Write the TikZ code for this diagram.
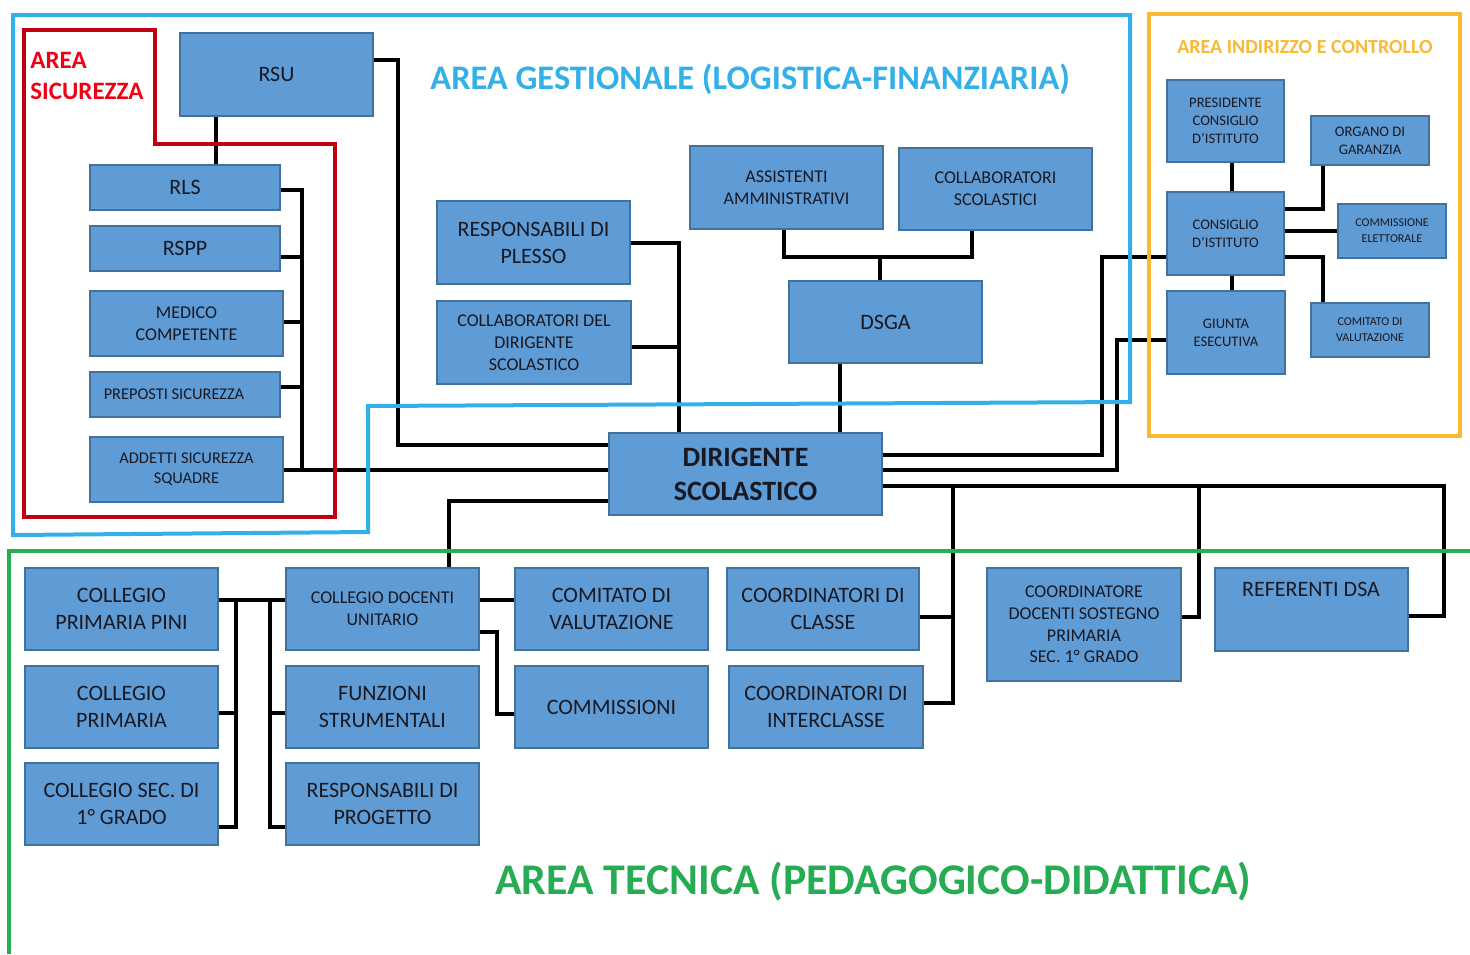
\documentclass[tikz,border=0pt]{standalone}
\usepackage{fontspec}
\setmainfont{Carlito}
\usetikzlibrary{calc}
\definecolor{boxfill}{RGB}{95,155,212}
\definecolor{boxline}{RGB}{65,113,156}
\definecolor{gestblue}{RGB}{52,176,232}
\definecolor{secred}{RGB}{192,0,18}
\definecolor{secredtext}{RGB}{240,0,20}
\definecolor{indorange}{RGB}{250,185,50}
\definecolor{tecgreen}{RGB}{38,172,82}
\definecolor{txt}{RGB}{25,25,35}
\newcommand\bx[7][]{%
  \pgfmathsetmacro\bw{(#5-#3)*0.5}%
  \pgfmathsetmacro\bh{(#6-#4)*0.5}%
  \node[box,#1,minimum width=\bw pt,minimum height=\bh pt] (#2) at ({(#3+#5)/2},{(#4+#6)/2}) {#7};}
\begin{document}
\begin{tikzpicture}[x=0.5pt,y=-0.5pt,
  box/.style={draw=boxline,line width=0.6pt,fill=boxfill,text=txt,align=center,inner sep=0pt},
  fsxi/.style={font=\fontsize{11}{13.5}\selectfont},
  fsix/.style={font=\fontsize{9}{10.9}\selectfont},
  fsviii/.style={font=\fontsize{8.2}{10}\selectfont},
  fsvii/.style={font=\fontsize{7.3}{8.85}\selectfont},
  fsvi/.style={font=\fontsize{6}{8}\selectfont},
  fsdir/.style={font=\bfseries\fontsize{14}{17}\selectfont},
  conn/.style={draw=black,line width=2.2pt,line join=miter},
  area/.style={line width=2pt,line join=miter}]
\useasboundingbox (0,0) rectangle (1470,954);
% boxes
\bx[fsxi]{rsu}{180}{33}{373}{116}{RSU}
\bx[fsxi]{rls}{90}{165}{280}{210}{RLS}
\bx[fsxi]{rspp}{90}{226}{280}{271}{RSPP}
\bx[fsix]{med}{90}{291}{283}{356}{MEDICO\\COMPETENTE}
\bx[fsviii]{prep}{90}{372}{280}{417}{PREPOSTI SICUREZZA\hspace*{11pt}}
\bx[fsviii]{add}{90}{437}{283}{502}{ADDETTI SICUREZZA\\SQUADRE}
\bx[fsxi]{plesso}{437}{201}{630}{284}{RESPONSABILI DI\\PLESSO}
\bx[fsix]{colldir}{437}{301}{631}{384}{COLLABORATORI DEL\\DIRIGENTE\\SCOLASTICO}
\bx[fsix]{assamm}{690}{146}{883}{229}{ASSISTENTI\\AMMINISTRATIVI}
\bx[fsix]{collscol}{899}{148}{1092}{230}{COLLABORATORI\\SCOLASTICI}
\bx[fsxi]{dsga}{789}{281}{982}{363}{DSGA}
\bx[fsdir]{dir}{609}{433}{882}{515}{DIRIGENTE\\SCOLASTICO}
\bx[fsvii]{pres}{1167}{80}{1284}{162}{PRESIDENTE\\CONSIGLIO\\D’ISTITUTO}
\bx[fsvii]{organo}{1311}{116}{1429}{165}{ORGANO DI\\GARANZIA}
\bx[fsvii]{cdi}{1167}{192}{1284}{275}{CONSIGLIO\\D’ISTITUTO}
\bx[fsvi]{commel}{1338}{204}{1446}{258}{COMMISSIONE\\ELETTORALE}
\bx[fsvii]{giunta}{1167}{291}{1285}{374}{GIUNTA\\ESECUTIVA}
\bx[fsvi]{comvali}{1311}{303}{1429}{357}{COMITATO DI\\VALUTAZIONE}
\bx[fsxi]{cpp}{25}{568}{218}{650}{COLLEGIO\\PRIMARIA PINI}
\bx[fsxi]{cp}{25}{666}{218}{748}{COLLEGIO\\PRIMARIA}
\bx[fsxi]{csec}{25}{763}{218}{845}{COLLEGIO SEC. DI\\1° GRADO}
\bx[fsix]{cdu}{286}{568}{479}{650}{COLLEGIO DOCENTI\\UNITARIO}
\bx[fsxi]{funz}{286}{666}{479}{748}{FUNZIONI\\STRUMENTALI}
\bx[fsxi]{rprog}{286}{763}{479}{845}{RESPONSABILI DI\\PROGETTO}
\bx[fsxi]{comvalii}{515}{568}{708}{650}{COMITATO DI\\VALUTAZIONE}
\bx[fsxi]{comm}{515}{666}{708}{748}{COMMISSIONI}
\bx[fsxi]{coordcl}{727}{568}{919}{650}{COORDINATORI DI\\CLASSE}
\bx[fsxi]{coordint}{729}{666}{923}{748}{COORDINATORI DI\\INTERCLASSE}
\bx[fsix]{coordsost}{987}{568}{1181}{681}{COORDINATORE\\DOCENTI SOSTEGNO\\PRIMARIA\\SEC. 1° GRADO}
\bx{refdsa}{1215}{568}{1408}{651}{}
\node[fsxi,text=txt,inner sep=0pt] (refdsatxt) at (1311,589) {REFERENTI DSA};
% connectors
\draw[conn] (rsu.east |- 0,60) -- (398,60) -- (398,445) -- (dir.west |- 0,445);
\draw[conn] (rsu.south -| 216,0) -- (rls.north -| 216,0);
\draw[conn] (rls.east |- 0,190) -- (302,190) -- (302,470);
\draw[conn] (rspp.east |- 0,257) -- (302,257);
\draw[conn] (med.east |- 0,322) -- (302,322);
\draw[conn] (prep.east |- 0,387) -- (302,387);
\draw[conn] (add.east |- 0,470) -- (dir.west |- 0,470);
\draw[conn] (plesso.east |- 0,243) -- (679,243) -- (dir.north -| 679,0);
\draw[conn] (colldir.east |- 0,347) -- (679,347);
\draw[conn] (dir.west |- 0,501) -- (449,501) -- (cdu.north -| 449,0);
\draw[conn] (assamm.south -| 784,0) -- (784,257) -- (972,257) -- (collscol.south -| 972,0);
\draw[conn] (880,257) -- (dsga.north -| 880,0);
\draw[conn] (dsga.south -| 840,0) -- (dir.north -| 840,0);
\draw[conn] (dir.east |- 0,455) -- (1102,455) -- (1102,257) -- (cdi.west |- 0,257);
\draw[conn] (dir.east |- 0,470) -- (1117,470) -- (1117,340) -- (giunta.west |- 0,340);
\draw[conn] (dir.east |- 0,486) -- (1444,486) -- (1444,616) -- (refdsa.east |- 0,616);
\draw[conn] (953,486) -- (953,703) -- (coordint.east |- 0,703);
\draw[conn] (coordcl.east |- 0,617) -- (953,617);
\draw[conn] (1199,486) -- (1199,617) -- (coordsost.east |- 0,617);
\draw[conn] (pres.south -| 1232,0) -- (cdi.north -| 1232,0);
\draw[conn] (cdi.south -| 1232,0) -- (giunta.north -| 1232,0);
\draw[conn] (cdi.east |- 0,209) -- (1323,209) -- (organo.south -| 1323,0);
\draw[conn] (cdi.east |- 0,231) -- (commel.west |- 0,231);
\draw[conn] (cdi.east |- 0,257) -- (1323,257) -- (comvali.north -| 1323,0);
\draw[conn] (cpp.east |- 0,600) -- (cdu.west |- 0,600);
\draw[conn] (236,600) -- (236,827) -- (csec.east |- 0,827);
\draw[conn] (cp.east |- 0,713) -- (236,713);
\draw[conn] (270,600) -- (270,827) -- (rprog.west |- 0,827);
\draw[conn] (funz.west |- 0,713) -- (270,713);
\draw[conn] (cdu.east |- 0,600) -- (comvalii.west |- 0,600);
\draw[conn] (cdu.east |- 0,632) -- (497,632) -- (497,714) -- (comm.west |- 0,714);
% areas
\draw[area,draw=gestblue] (13,15) -- (1130,15) -- (1130,402) -- (368,406) -- (368,532) -- (13,535) -- cycle;
\draw[area,draw=secred] (24,30) -- (155,30) -- (155,144) -- (335,144) -- (335,517) -- (24,517) -- cycle;
\draw[area,draw=indorange] (1149,14) rectangle (1460,436);
\draw[area,draw=tecgreen] (9,954) -- (9,551) -- (1470,551);
% area labels
\node[font=\bfseries\fontsize{17.2}{20}\selectfont,text=gestblue,anchor=west,inner sep=0pt] (lblgest) at (430,79) {AREA GESTIONALE (LOGISTICA-FINANZIARIA)};
\node[font=\bfseries\fontsize{21.9}{26}\selectfont,text=tecgreen,anchor=west,inner sep=0pt] (lbltec) at (495,882) {AREA TECNICA (PEDAGOGICO-DIDATTICA)};
\node[font=\bfseries\fontsize{10}{12}\selectfont,text=indorange,inner sep=0pt] (lblind) at (1305,47) {AREA INDIRIZZO E CONTROLLO};
\node[font=\bfseries\fontsize{12.5}{15.5}\selectfont,text=secredtext,anchor=north west,align=left,inner sep=0pt] (lblsic) at (30,52) {AREA\\SICUREZZA};
\end{tikzpicture}
\end{document}
